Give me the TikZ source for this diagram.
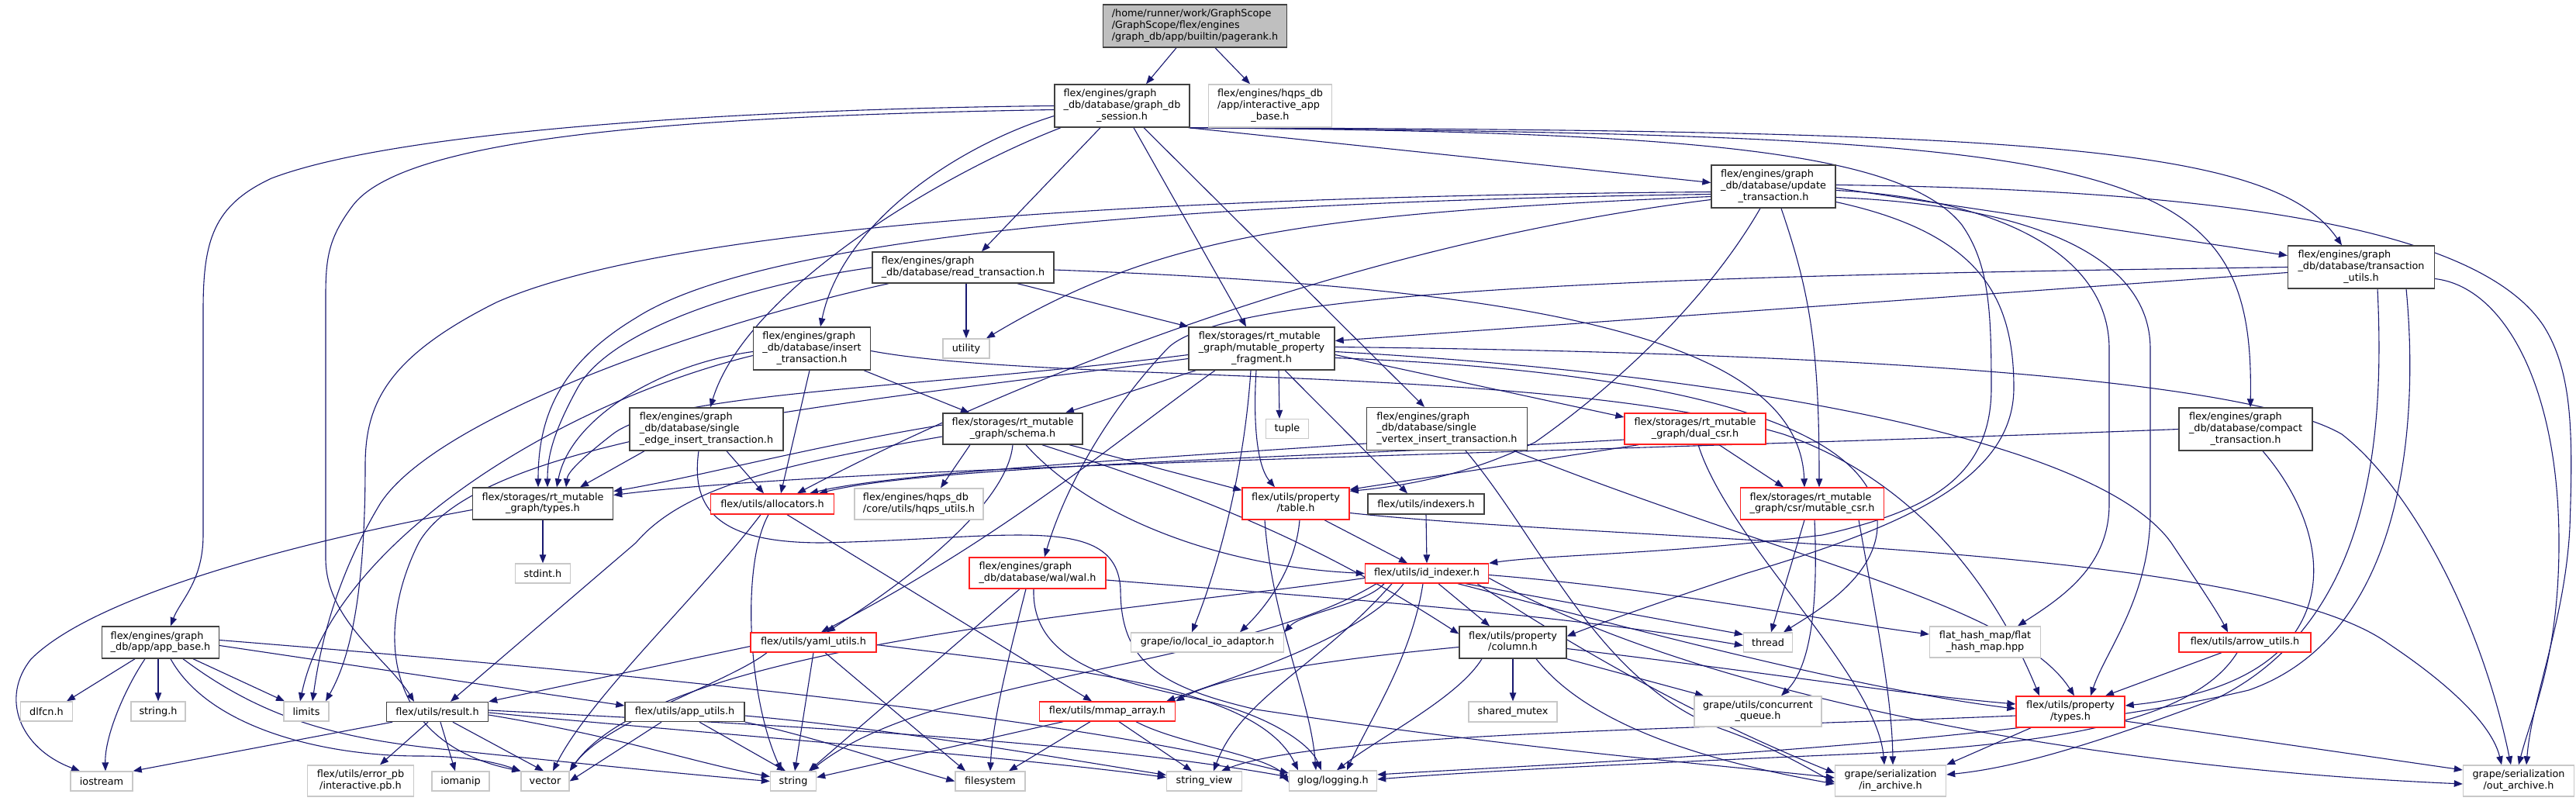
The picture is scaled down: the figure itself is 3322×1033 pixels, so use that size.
\documentclass[tikz,border=0pt]{standalone}
\usepackage{fontspec}
\setmainfont{DejaVu Sans}
\usetikzlibrary{arrows.meta,calc}
\definecolor{ec}{HTML}{191970}
\definecolor{nblack}{HTML}{404040}
\definecolor{nred}{HTML}{FF2020}
\definecolor{ngray}{HTML}{C8C8C8}
\definecolor{gfill}{HTML}{BFBFBF}
\newcommand{\nodefont}{\fontsize{12.8}{14.7}\selectfont}
\newcommand{\twol}[2]{\begin{tabular}{@{}l@{}}#1\\\multicolumn{1}{@{}c@{}}{#2}\end{tabular}}
\newcommand{\threel}[3]{\begin{tabular}{@{}l@{}}#1\\#2\\\multicolumn{1}{@{}c@{}}{#3}\end{tabular}}
\pgfdeclarelayer{bg}
\pgfsetlayers{bg,main}
\tikzset{
 edg/.style={draw=ec, line width=1.1pt, -{Triangle[length=11pt,width=8.5pt]}},
 nb/.style={draw=nblack, fill=white, line width=1.4pt, inner sep=0pt, font=\nodefont},
 nr/.style={nb, draw=nred},
 ng/.style={nb, draw=ngray},
 sz/.style 2 args={minimum width=#1, minimum height=#2},
}
\begin{document}
\begin{tikzpicture}[x=1pt,y=-1pt]
\useasboundingbox (0,0) rectangle (3322,1033);
% ---------------- nodes ----------------
\node[nb, fill=gfill, sz={237pt}{55pt}] (P) at (1541,33.5) {\begin{tabular}{@{}l@{}}/home/runner/work/GraphScope\\/GraphScope/flex/engines\\/graph\_db/app/builtin/pagerank.h\end{tabular}};
\node[nb, sz={174pt}{55pt}] (S) at (1447,136.5) {\threel{flex/engines/graph}{\_db/database/graph\_db}{\_session.h}};
\node[ng, sz={159pt}{55pt}] (IA) at (1638,136.5) {\threel{flex/engines/hqps\_db}{/app/interactive\_app}{\_base.h}};
\node[nb, sz={160pt}{55pt}] (U) at (2287,240.5) {\threel{flex/engines/graph}{\_db/database/update}{\_transaction.h}};
\node[nb, sz={234pt}{40pt}] (R) at (1242,345) {\twol{flex/engines/graph}{\_db/database/read\_transaction.h}};
\node[nb, sz={189pt}{55pt}] (TU) at (3045,344.5) {\threel{flex/engines/graph}{\_db/database/transaction}{\_utils.h}};
\node[nb, sz={151pt}{55pt}] (IT) at (1047,449.5) {\threel{flex/engines/graph}{\_db/database/insert}{\_transaction.h}};
\node[ng, sz={60pt}{25pt}] (UT) at (1246,449.5) {utility};
\node[nb, sz={188pt}{55pt}] (F) at (1627,449.5) {\threel{flex/storages/rt\_mutable}{\_graph/mutable\_property}{\_fragment.h}};
\node[nb, sz={198pt}{55pt}] (SE) at (911,553.5) {\threel{flex/engines/graph}{\_db/database/single}{\_edge\_insert\_transaction.h}};
\node[nb, sz={180pt}{40pt}] (SC) at (1306,553) {\twol{flex/storages/rt\_mutable}{\_graph/schema.h}};
\node[ng, sz={55pt}{25pt}] (TP) at (1660,553) {tuple};
\node[nb, sz={207pt}{55pt}] (SV) at (1866,553) {\threel{flex/engines/graph}{\_db/database/single}{\_vertex\_insert\_transaction.h}};
\node[nr, sz={182pt}{40pt}] (DC) at (2186,553) {\twol{flex/storages/rt\_mutable}{\_graph/dual\_csr.h}};
\node[nb, sz={172pt}{55pt}] (CT) at (2896,553.5) {\threel{flex/engines/graph}{\_db/database/compact}{\_transaction.h}};
\node[nb, sz={181pt}{41pt}] (TY) at (700,649.5) {\twol{flex/storages/rt\_mutable}{\_graph/types.h}};
\node[nr, sz={159pt}{26pt}] (AL) at (996,650) {flex/utils/allocators.h};
\node[ng, sz={166pt}{40pt}] (HU) at (1185,650) {\twol{flex/engines/hqps\_db}{/core/utils/hqps\_utils.h}};
\node[nr, sz={138pt}{41pt}] (TB) at (1671,649.5) {\twol{flex/utils/property}{/table.h}};
\node[nb, sz={150pt}{26pt}] (IX) at (1839,650) {flex/utils/indexers.h};
\node[nr, sz={185pt}{41pt}] (MC) at (2337,649.5) {\twol{flex/storages/rt\_mutable}{\_graph/csr/mutable\_csr.h}};
\node[ng, sz={71pt}{25pt}] (SI) at (700,739.5) {stdint.h};
\node[nr, sz={176pt}{40pt}] (WAL) at (1338,739) {\twol{flex/engines/graph}{\_db/database/wal/wal.h}};
\node[nr, sz={159pt}{25pt}] (ID) at (1840,739.5) {flex/utils/id\_indexer.h};
\node[nb, sz={151pt}{41pt}] (AB) at (207,828.5) {\twol{flex/engines/graph}{\_db/app/app\_base.h}};
\node[nr, sz={162pt}{25pt}] (YU) at (1049,828.5) {flex/utils/yaml\_utils.h};
\node[ng, sz={197pt}{25pt}] (LIO) at (1557,828.5) {grape/io/local\_io\_adaptor.h};
\node[nb, sz={138pt}{41pt}] (CO) at (1951,828.5) {\twol{flex/utils/property}{/column.h}};
\node[ng, sz={63pt}{25pt}] (TH) at (2280,828.5) {thread};
\node[ng, sz={143pt}{40pt}] (FH) at (2560,828) {\twol{flat\_hash\_map/flat}{\_hash\_map.hpp}};
\node[nr, sz={170pt}{25pt}] (AU) at (2895,828.5) {flex/utils/arrow\_utils.h};
\node[ng, sz={67pt}{25pt}] (DL) at (60,917.5) {dlfcn.h};
\node[ng, sz={70pt}{25pt}] (SH) at (204,917.5) {string.h};
\node[ng, sz={58pt}{25pt}] (LI) at (395,917.5) {limits};
\node[nb, sz={131pt}{25pt}] (RE) at (564,918) {flex/utils/result.h};
\node[nb, sz={154pt}{25pt}] (APU) at (883,918) {flex/utils/app\_utils.h};
\node[nr, sz={175pt}{25pt}] (MM) at (1428,917.5) {flex/utils/mmap\_array.h};
\node[ng, sz={114pt}{26pt}] (SM) at (1951,918) {shared\_mutex};
\node[ng, sz={164pt}{39pt}] (CQ) at (2267,917.5) {\twol{grape/utils/concurrent}{\_queue.h}};
\node[nr, sz={140pt}{40pt}] (PT) at (2670,918) {\twol{flex/utils/property}{/types.h}};
\node[ng, sz={80pt}{25pt}] (IO) at (131,1007.5) {iostream};
\node[ng, sz={137pt}{40pt}] (EP) at (465,1007) {\twol{flex/utils/error\_pb}{/interactive.pb.h}};
\node[ng, sz={74pt}{25pt}] (IM) at (594,1007.5) {iomanip};
\node[ng, sz={62pt}{25pt}] (VE) at (703,1007.5) {vector};
\node[ng, sz={59pt}{25pt}] (ST) at (1023,1007.5) {string};
\node[ng, sz={90pt}{25pt}] (FS) at (1277,1007.5) {filesystem};
\node[ng, sz={97pt}{25pt}] (SW) at (1553,1007.5) {string\_view};
\node[ng, sz={113pt}{26pt}] (GL) at (1719,1007) {glog/logging.h};
\node[ng, sz={143pt}{40pt}] (IN) at (2438,1007) {\twol{grape/serialization}{/in\_archive.h}};
\node[ng, sz={143pt}{40pt}] (OUT) at (3248,1007) {\twol{grape/serialization}{/out\_archive.h}};
% ---------------- edges ----------------
\begin{pgfonlayer}{bg}
\fill[white] (0,0) rectangle (3322,1033);
% pagerank
\draw[edg] ([xshift=-24pt]P.south) -- ([xshift=31pt]S.north);
\draw[edg] ([xshift=26pt]P.south) -- ([xshift=-26pt]IA.north);
% session
\draw[edg] (S.west) .. controls (1000,140) and (520,165) .. (350,230) .. controls (275,265) and (262,310) .. (262,400) -- (262,690) .. controls (262,750) and (232,775) .. ([xshift=13pt]AB.north);
\draw[edg] ([yshift=-5pt]S.west) .. controls (850,150) and (520,180) .. (455,265) .. controls (425,305) and (420,330) .. (420,380) -- (420,720) .. controls (420,800) and (500,850) .. ([xshift=-30pt]RE.north);
\draw[edg] ([yshift=-13pt]S.west) .. controls (1230,190) and (1085,290) .. ([xshift=11pt]IT.north);
\draw[edg] ([xshift=-79pt]S.south) .. controls (1200,230) and (960,380) .. ([xshift=5pt]SE.north);
\draw[edg] ([xshift=-28pt]S.south) -- ([xshift=24pt]R.north);
\draw[edg] ([xshift=15pt]S.south) -- ([xshift=-20pt]F.north);
\draw[edg] ([xshift=28pt]S.south) -- ([xshift=-29pt]SV.north);
\draw[edg] ([xshift=-2pt]S.south east) -- ([yshift=5pt]U.west);
\draw[edg] (S.south east) .. controls (2600,168) and (2930,185) .. ([xshift=-25pt]TU.north);
\draw[edg] (S.south east) .. controls (2750,175) and (2908,200) .. ([xshift=6pt]CT.north);
\draw[edg] (S.south east) .. controls (2150,170) and (2450,190) .. (2530,290) .. controls (2565,340) and (2568,400) .. (2568,500) .. controls (2568,620) and (2480,660) .. (2350,690) .. controls (2150,715) and (2000,715) .. (ID.north east);
% update
\draw[edg] ([yshift=-2pt]U.east) -- ([yshift=15pt]TU.west);
\draw[edg] ([yshift=-7pt]U.west) .. controls (1300,255) and (820,310) .. (640,390) .. controls (500,460) and (471,520) .. (471,600) .. controls (471,790) and (445,860) .. ([xshift=25pt]LI.north);
\draw[edg] ([yshift=-10pt]U.west) .. controls (1400,262) and (960,320) .. (820,410) .. controls (720,470) and (694,540) .. ([xshift=-6pt]TY.north);
\draw[edg] ([yshift=-13pt]U.west) .. controls (1700,275) and (1500,300) .. ([xshift=26pt]UT.north);
\draw[edg] ([yshift=-17pt]U.west) .. controls (1700,320) and (1250,520) .. ([xshift=32pt]AL.north);
\draw[edg] ([xshift=-17pt]U.south) .. controls (2200,390) and (2080,500) .. (1980,570) .. controls (1890,615) and (1800,628) .. ([yshift=-5pt]TB.north east);
\draw[edg] ([xshift=10pt]U.south) .. controls (2335,380) and (2346,450) .. ([xshift=9pt]MC.north);
\draw[edg] ([yshift=-20pt]U.east) .. controls (2550,300) and (2597,380) .. (2597,500) .. controls (2597,620) and (2450,680) .. (2250,740) .. controls (2130,780) and (2060,805) .. ([yshift=8pt]CO.east);
\draw[edg] ([yshift=-5pt]U.east) .. controls (2560,255) and (2720,320) .. (2720,450) -- (2720,650) .. controls (2720,730) and (2660,770) .. ([xshift=42pt]FH.north);
\draw[edg] ([yshift=-14pt]U.east) .. controls (2620,265) and (2773,330) .. (2773,450) -- (2773,660) .. controls (2773,770) and (2715,840) .. ([xshift=26pt]PT.north);
\draw[edg] ([yshift=2pt]U.east) .. controls (2900,245) and (3200,300) .. (3280,420) .. controls (3318,480) and (3318,560) .. (3314,680) .. controls (3308,800) and (3265,900) .. ([xshift=10pt]OUT.north);
% read
\draw[edg] ([xshift=4pt]R.south) -- (UT.north);
\draw[edg] ([xshift=70pt]R.south) -- (F.north west);
\draw[edg] ([yshift=-3pt]R.east) .. controls (1950,370) and (2320,430) .. ([xshift=-10pt]MC.north);
\draw[edg] (R.west) .. controls (980,365) and (790,420) .. (745,500) .. controls (712,560) and (706,590) .. ([xshift=6pt]TY.north);
\draw[edg] ([xshift=-96pt]R.south) .. controls (900,420) and (560,540) .. (490,650) .. controls (430,750) and (412,840) .. ([xshift=8pt]LI.north);
% insert
\draw[edg] ([xshift=67pt]IT.south) -- ([xshift=-56pt]SC.north);
\draw[edg] ([xshift=-3pt]IT.south) -- ([xshift=11pt]AL.north);
\draw[edg] ([yshift=-4pt]IT.west) .. controls (850,470) and (735,540) .. ([xshift=18pt]TY.north);
\draw[edg] ([yshift=-9pt]IT.west) .. controls (720,520) and (430,700) .. ([xshift=-8pt]LI.north);
\draw[edg] ([yshift=-3pt]IT.east) .. controls (1350,495) and (2000,470) .. (2300,560) .. controls (2500,630) and (2590,800) .. ([xshift=-40pt]PT.north);
% fragment
\draw[edg] ([xshift=-85pt]F.south) -- ([xshift=68pt]SC.north);
\draw[edg] ([xshift=22pt]F.south) -- ([xshift=-10pt]TP.north);
\draw[edg] ([xshift=-7pt]F.south) .. controls (1616,540) and (1620,600) .. ([xshift=-27pt]TB.north);
\draw[edg] ([xshift=30pt]F.south) -- ([xshift=-24pt]IX.north);
\draw[edg] ([yshift=-8pt]F.east) -- ([yshift=15pt]DC.west);
\draw[edg] ([yshift=-8pt]F.west) .. controls (1200,500) and (860,505) .. (790,560) .. controls (745,595) and (732,610) .. ([xshift=30pt]TY.north);
\draw[edg] ([yshift=-13pt]F.west) .. controls (1100,520) and (620,560) .. (540,700) .. controls (480,820) and (500,960) .. (VE.north west);
\draw[edg] ([xshift=-60pt]F.south) .. controls (1450,560) and (1300,690) .. ([xshift=10pt]YU.north);
\draw[edg] ([xshift=-14pt]F.south) .. controls (1605,600) and (1575,720) .. ([xshift=-20pt]LIO.north);
\draw[edg] ([yshift=-12pt]F.east) .. controls (2200,480) and (2440,560) .. (2420,690) .. controls (2410,750) and (2340,790) .. ([xshift=20pt]TH.north);
\draw[edg] ([yshift=-4pt]F.east) .. controls (2200,480) and (2700,560) .. (2800,700) .. controls (2840,760) and (2860,790) .. ([xshift=-22pt]AU.north);
\draw[edg] ([yshift=2pt]F.east) .. controls (2400,455) and (2900,490) .. (3020,560) .. controls (3110,630) and (3200,800) .. ([xshift=-10pt]OUT.north);
% transaction utils
\draw[edg] ([yshift=-7pt]TU.west) -- ([yshift=10pt]F.east);
\draw[edg] (TU.west) .. controls (2200,355) and (1580,370) .. (1505,450) .. controls (1420,540) and (1370,640) .. ([xshift=9pt]WAL.north);
\draw[edg] ([xshift=21pt]TU.south) .. controls (3075,560) and (3060,800) .. (2860,900) .. controls (2700,960) and (2600,990) .. ([yshift=8pt]IN.east);
\draw[edg] ([xshift=58pt]TU.south) .. controls (3120,550) and (3100,820) .. (2900,890) .. controls (2600,962) and (2000,985) .. ([yshift=8pt]GL.east);
\draw[edg] ([yshift=-15pt]TU.east) .. controls (3230,370) and (3300,500) .. (3300,700) .. controls (3300,850) and (3265,920) .. (OUT.north);
% single edge insert
\draw[edg] ([xshift=-80pt]SE.south) -- ([xshift=48pt]TY.north);
\draw[edg] ([xshift=26pt]SE.south) -- ([xshift=-11pt]AL.north);
\draw[edg] ([xshift=-10pt]SE.south) .. controls (890,660) and (930,700) .. (1060,700) .. controls (1300,695) and (1440,660) .. (1445,760) .. controls (1445,850) and (1490,885) .. (1620,915) .. controls (1950,965) and (2200,985) .. ([yshift=4pt]IN.west);
% single vertex insert
\draw[edg] ([yshift=-19pt]SV.west) .. controls (1500,590) and (1150,610) .. ([xshift=48pt]AL.north);
\draw[edg] ([xshift=24pt]SV.south) .. controls (1990,700) and (2060,880) .. (2220,940) .. controls (2290,965) and (2330,990) .. ([yshift=-2pt]IN.west);
\draw[edg] ([xshift=86pt]SV.south) .. controls (2300,720) and (2600,780) .. ([xshift=5pt]PT.north);
% compact
\draw[edg] (CT.west) .. controls (2000,585) and (1100,600) .. ([yshift=11pt]TY.east);
\draw[edg] ([xshift=22pt]CT.south) .. controls (3020,700) and (3030,880) .. ([yshift=8pt]PT.east);
% schema
\draw[edg] ([yshift=5pt]SC.west) .. controls (1050,575) and (900,615) .. ([yshift=16pt]TY.east);
\draw[edg] ([yshift=-10pt]SC.west) .. controls (1000,600) and (880,630) .. (820,700) -- ([xshift=17pt]RE.north);
\draw[edg] ([xshift=-55pt]SC.south) -- ([xshift=28pt]HU.north);
\draw[edg] ([xshift=73pt]SC.south) -- ([yshift=-4pt]TB.north west);
\draw[edg] (SC.south) .. controls (1300,640) and (1200,730) .. ([xshift=17pt]YU.north);
\draw[edg] ([xshift=17pt]SC.south) .. controls (1400,660) and (1560,730) .. (ID.west);
\draw[edg] ([xshift=38pt]SC.south) .. controls (1550,640) and (1700,700) .. ([yshift=11pt]CO.west);
% dual csr
\draw[edg] ([xshift=31pt]DC.south) -- ([xshift=-37pt]MC.north);
\draw[edg] ([xshift=-73pt]DC.south) -- ([yshift=-3pt]TB.north east);
\draw[edg] ([yshift=-14pt]DC.west) .. controls (1700,590) and (1200,600) .. ([xshift=60pt]AL.north);
\draw[edg] ([xshift=4pt]DC.south) .. controls (2230,700) and (2420,870) .. ([xshift=-8pt]IN.north);
% rt types
\draw[edg] (TY.south) -- (SI.north);
\draw[edg] ([yshift=-8pt]TY.west) .. controls (430,690) and (130,760) .. (40,850) .. controls (0,900) and (25,965) .. ([xshift=-28pt]IO.north);
% allocators
\draw[edg] ([xshift=19pt]AL.south) -- ([xshift=-20pt]MM.north);
\draw[edg] ([xshift=-5pt]AL.south) .. controls (955,730) and (965,900) .. ([xshift=-15pt]ST.north);
\draw[edg] ([xshift=-15pt]AL.south) .. controls (900,770) and (760,900) .. ([xshift=10pt]VE.north);
% table
\draw[edg] ([xshift=37pt]TB.south) -- ([xshift=-25pt]ID.north);
\draw[edg] ([xshift=5pt]TB.south) .. controls (1670,740) and (1625,790) .. ([xshift=42pt]LIO.north);
\draw[edg] ([xshift=-40pt]TB.south) .. controls (1640,800) and (1690,900) .. ([xshift=-22pt]GL.north);
\draw[edg] ([yshift=-12pt]TB.east) .. controls (2100,700) and (2900,700) .. (3080,830) .. controls (3170,890) and (3215,940) .. ([xshift=-22pt]OUT.north);
% indexers
\draw[edg] (IX.south) -- (ID.north);
% mutable csr
\draw[edg] ([xshift=-10pt]MC.south) -- ([xshift=4pt]TH.north);
\draw[edg] ([xshift=3pt]MC.south) .. controls (2345,780) and (2335,860) .. ([xshift=30pt]CQ.north);
\draw[edg] ([xshift=60pt]MC.south) .. controls (2420,800) and (2440,900) .. ([xshift=3pt]IN.north);
% wal
\draw[edg] ([xshift=-23pt]WAL.south) -- ([xshift=20pt]ST.north);
\draw[edg] ([xshift=-15pt]WAL.south) .. controls (1300,850) and (1280,930) .. (FS.north);
\draw[edg] ([xshift=-5pt]WAL.south) .. controls (1330,860) and (1450,880) .. (1560,905) .. controls (1640,925) and (1690,960) .. ([xshift=-15pt]GL.north);
\draw[edg] ([yshift=-9pt]WAL.east) .. controls (1700,770) and (2000,790) .. ([yshift=-4pt]TH.west);
% id indexer
\draw[edg] ([xshift=15pt]ID.south) -- ([xshift=-30pt]CO.north);
\draw[edg] ([xshift=50pt]ID.south) -- ([yshift=-3pt]TH.north west);
\draw[edg] ([yshift=-2pt]ID.east) .. controls (2150,760) and (2350,800) .. ([yshift=10pt]FH.west);
\draw[edg] ([xshift=-55pt]ID.south) .. controls (1760,780) and (1680,790) .. (LIO.north east);
\draw[edg] ([xshift=40pt]ID.south) .. controls (2100,810) and (2400,890) .. ([yshift=4pt]PT.west);
\draw[edg] ([xshift=-30pt]ID.south) .. controls (1760,820) and (1600,870) .. ([xshift=-12pt]MM.north east);
\draw[edg] ([xshift=-5pt]ID.south) .. controls (1820,850) and (1765,930) .. ([xshift=18pt]GL.north);
\draw[edg] ([xshift=-65pt]ID.south) .. controls (1600,860) and (1200,870) .. ([xshift=22pt]ST.north);
\draw[edg] ([xshift=-45pt]ID.south) .. controls (1700,860) and (1600,900) .. ([xshift=12pt]SW.north);
\draw[edg] ([yshift=-6pt]ID.west) .. controls (1450,790) and (850,830) .. (VE.north east);
\draw[edg] ([xshift=65pt]ID.south) .. controls (2100,880) and (2250,950) .. ([yshift=10pt]IN.west);
\draw[edg] ([yshift=-6pt]ID.east) .. controls (2200,900) and (2700,990) .. ([yshift=-4pt]OUT.west);
% app base
\draw[edg] ([xshift=-33pt]AB.south) -- ([xshift=26pt]DL.north);
\draw[edg] ([xshift=-3pt]AB.south) -- (SH.north);
\draw[edg] ([xshift=42pt]AB.south) -- ([xshift=-28pt]LI.north);
\draw[edg] ([xshift=-20pt]AB.south) .. controls (160,890) and (135,950) .. ([xshift=5pt]IO.north);
\draw[edg] ([xshift=13pt]AB.south) .. controls (270,940) and (420,975) .. (540,975) .. controls (610,975) and (645,985) .. (VE.north west);
\draw[edg] ([xshift=29pt]AB.south) .. controls (330,920) and (420,950) .. (560,965) .. controls (750,985) and (900,1000) .. (ST.west);
\draw[edg] ([yshift=-4pt]AB.east) -- ([yshift=8pt]APU.west);
\draw[edg] ([yshift=3pt]AB.east) .. controls (900,875) and (1400,930) .. ([yshift=10pt]GL.west);
% yaml utils
\draw[edg] ([yshift=-5pt]YU.west) -- (RE.north east);
\draw[edg] ([xshift=-60pt]YU.south) .. controls (940,880) and (780,930) .. (VE.north east);
\draw[edg] (YU.south) -- ([xshift=2pt]ST.north);
\draw[edg] ([xshift=15pt]YU.south) -- ([xshift=-32pt]FS.north);
\draw[edg] ([yshift=-3pt]YU.east) .. controls (1350,860) and (1620,880) .. ([xshift=-45pt]GL.north);
% column
\draw[edg] (CO.south) -- (SM.north);
\draw[edg] (CO.south east) -- ([xshift=-70pt]CQ.north);
\draw[edg] ([yshift=-8pt]CO.east) .. controls (2300,870) and (2450,895) .. ([yshift=10pt]PT.west);
\draw[edg] ([yshift=-6pt]CO.west) .. controls (1720,850) and (1580,870) .. (MM.north east);
\draw[edg] ([xshift=-40pt]CO.south) .. controls (1880,900) and (1780,950) .. ([xshift=5pt]GL.north);
\draw[edg] ([xshift=30pt]CO.south) .. controls (2060,950) and (2250,990) .. ([yshift=-4pt]IN.west);
% arrow utils
\draw[edg] ([xshift=-30pt]AU.south) -- ([xshift=45pt]PT.north);
\draw[edg] ([xshift=-10pt]AU.south) .. controls (2830,930) and (2650,960) .. (2400,972) .. controls (2100,985) and (1900,995) .. ([yshift=2pt]GL.east);
% result
\draw[edg] ([xshift=-58pt]RE.south) -- (IO.north east);
\draw[edg] ([xshift=-12pt]RE.south) -- ([xshift=25pt]EP.north);
\draw[edg] ([xshift=4pt]RE.south) -- ([xshift=-7pt]IM.north);
\draw[edg] ([xshift=20pt]RE.south) -- ([xshift=-2pt]VE.north);
\draw[edg] ([yshift=-4pt]RE.east) .. controls (800,950) and (900,985) .. ([yshift=6pt]ST.west);
\draw[edg] ([yshift=2pt]RE.east) .. controls (1000,935) and (1400,955) .. ([yshift=5pt]GL.west);
\draw[edg] ([yshift=-1pt]RE.east) .. controls (900,945) and (1300,975) .. ([yshift=5pt]SW.west);
% app utils
\draw[edg] ([xshift=-30pt]APU.south) -- (VE.east);
\draw[edg] ([xshift=19pt]APU.south) -- ([xshift=-10pt]ST.north);
\draw[edg] ([yshift=-5pt]APU.east) .. controls (1150,940) and (1350,975) .. ([yshift=8pt]SW.west);
\draw[edg] (APU.south east) .. controls (1050,950) and (1150,985) .. (FS.west);
% mmap array
\draw[edg] ([xshift=-57pt]MM.south) -- ([yshift=5pt]ST.east);
\draw[edg] ([xshift=-22pt]MM.south) -- ([xshift=24pt]FS.north);
\draw[edg] ([xshift=15pt]MM.south) -- ([xshift=-16pt]SW.north);
\draw[edg] ([xshift=37pt]MM.south) .. controls (1520,960) and (1640,975) .. ([yshift=-2pt]GL.west);
% property types
\draw[edg] ([xshift=-51pt]PT.south) -- (IN.north east);
\draw[edg] ([yshift=-12pt]PT.east) -- ([yshift=14pt]OUT.west);
\draw[edg] ([yshift=-5pt]PT.west) .. controls (2200,940) and (1700,945) .. ([xshift=22pt]SW.north);
\end{pgfonlayer}
\end{tikzpicture}
\end{document}
